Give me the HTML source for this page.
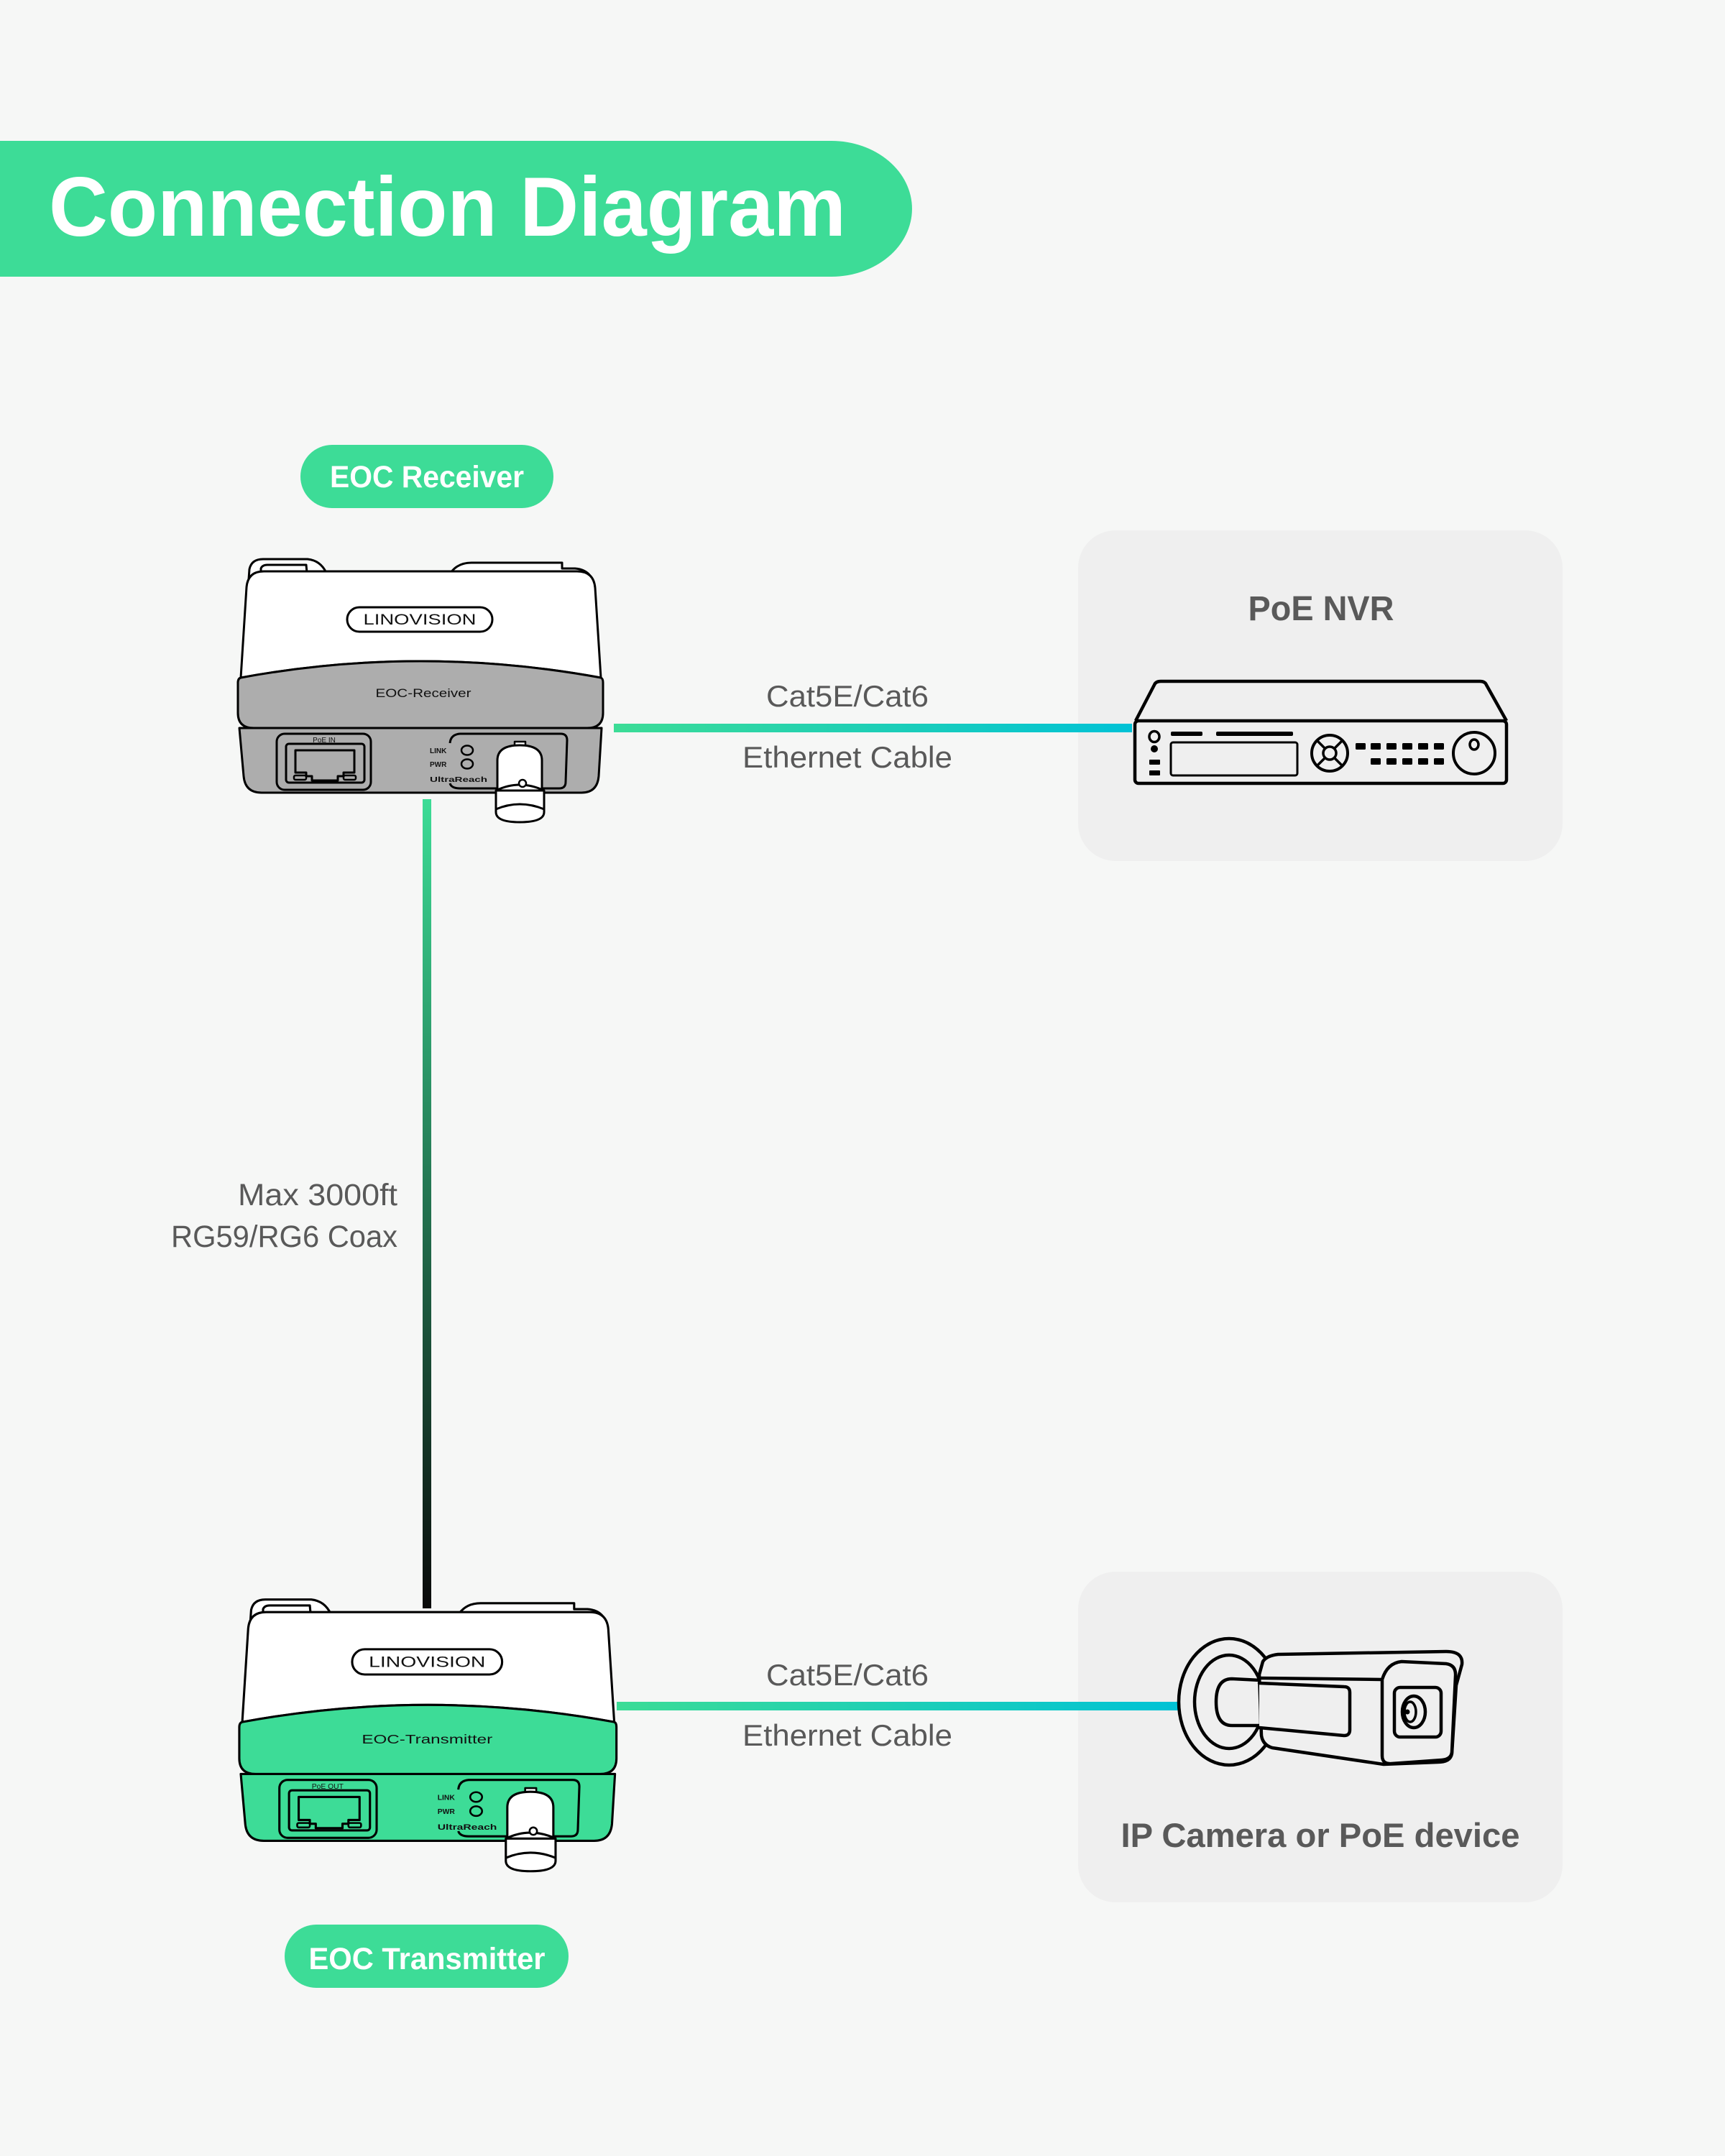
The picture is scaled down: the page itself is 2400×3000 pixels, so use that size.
<!DOCTYPE html>
<html><head><meta charset="utf-8"><style>
html,body{margin:0;padding:0;background:#f6f7f6;}
svg{display:block;}
text{font-family:"Liberation Sans",sans-serif;}
</style></head><body>
<svg width="2400" height="3000" viewBox="0 0 2400 3000" xmlns="http://www.w3.org/2000/svg">
<defs>
<linearGradient id="eth" x1="0" y1="0" x2="1" y2="0"><stop offset="0" stop-color="#3cdc96"/><stop offset="1" stop-color="#00c2d6"/></linearGradient>
<linearGradient id="coax" x1="0" y1="0" x2="0" y2="1"><stop offset="0" stop-color="#3cdc96"/><stop offset="1" stop-color="#0a0a0a"/></linearGradient>
</defs>
<rect width="2400" height="3000" fill="#f6f7f6"/>

<!-- Title banner -->
<path d="M0,196 H1157 A112,94.5 0 0 1 1157,385 H0 Z" fill="#3ddc97"/>
<text x="68" y="328" font-size="117" font-weight="bold" fill="#fff" textLength="1109" lengthAdjust="spacingAndGlyphs">Connection Diagram</text>

<!-- EOC Receiver pill -->
<rect x="418" y="619" width="352" height="88" rx="44" fill="#3ddc97"/>
<text x="594" y="678" font-size="43" font-weight="bold" fill="#fff" text-anchor="middle" textLength="270" lengthAdjust="spacingAndGlyphs">EOC Receiver</text>

<!-- EOC Transmitter pill -->
<rect x="396" y="2678" width="395" height="88" rx="44" fill="#3ddc97"/>
<text x="594" y="2740" font-size="43" font-weight="bold" fill="#fff" text-anchor="middle" textLength="329" lengthAdjust="spacingAndGlyphs">EOC Transmitter</text>

<!-- Boxes -->
<rect x="1500" y="738" width="674" height="460" rx="52" fill="#efefef"/>
<rect x="1500" y="2187" width="674" height="460" rx="52" fill="#efefef"/>

<!-- Cables -->
<rect x="854" y="1007" width="721" height="12" fill="url(#eth)"/>
<rect x="858" y="2368" width="784" height="12" fill="url(#eth)"/>
<rect x="588" y="1112" width="12" height="1126" fill="url(#coax)"/>

<!-- Cable labels -->
<g fill="#595959" font-size="42">
<text x="1179" y="983" text-anchor="middle" textLength="226" lengthAdjust="spacingAndGlyphs">Cat5E/Cat6</text>
<text x="1179" y="1068" text-anchor="middle" textLength="292" lengthAdjust="spacingAndGlyphs">Ethernet Cable</text>
<text x="1179" y="2345" text-anchor="middle" textLength="226" lengthAdjust="spacingAndGlyphs">Cat5E/Cat6</text>
<text x="1179" y="2429" text-anchor="middle" textLength="292" lengthAdjust="spacingAndGlyphs">Ethernet Cable</text>
<text x="553" y="1677" font-size="43" text-anchor="end" textLength="222" lengthAdjust="spacingAndGlyphs">Max 3000ft</text>
<text x="553" y="1735" font-size="43" text-anchor="end" textLength="315" lengthAdjust="spacingAndGlyphs">RG59/RG6 Coax</text>
</g>

<!-- NVR -->
<text x="1838" y="863" font-size="48" font-weight="bold" fill="#595959" text-anchor="middle" textLength="203" lengthAdjust="spacingAndGlyphs">PoE NVR</text>
<g stroke="#000" stroke-width="4.5" fill="none" stroke-linejoin="round">
<path d="M1580,1003 L1606,953 Q1608,948 1615,948 L2059,948 Q2066,948 2068,953 L2096,1003"/>
<rect x="1579" y="1003" width="517" height="87" rx="5"/>
<ellipse cx="1606" cy="1025" rx="7" ry="7.5" stroke-width="3.5"/>
<rect x="1629" y="1033" width="176" height="46" rx="3" stroke-width="3"/>
<circle cx="1850" cy="1048" r="25" stroke-width="4"/>
<circle cx="1850" cy="1048" r="9" stroke-width="3.5"/>
<path d="M1833,1031 L1844,1042 M1867,1031 L1856,1042 M1833,1065 L1844,1054 M1867,1065 L1856,1054" stroke-width="3.5"/>
<circle cx="2051" cy="1048" r="29" stroke-width="4"/>
<ellipse cx="2051" cy="1036" rx="6" ry="7" stroke-width="3.5"/>
</g>
<g fill="#000">
<circle cx="1606" cy="1042" r="5"/>
<rect x="1599" y="1057" width="15" height="7" rx="1"/>
<rect x="1599" y="1072" width="15" height="7" rx="1"/>
<rect x="1629" y="1018" width="44" height="6" rx="2"/>
<rect x="1692" y="1018" width="107" height="6" rx="2"/>
<rect x="1886" y="1034" width="14" height="9" rx="1.5"/>
<rect x="1907" y="1034" width="14" height="9" rx="1.5"/>
<rect x="1929" y="1034" width="14" height="9" rx="1.5"/>
<rect x="1951" y="1034" width="14" height="9" rx="1.5"/>
<rect x="1973" y="1034" width="14" height="9" rx="1.5"/>
<rect x="1995" y="1034" width="14" height="9" rx="1.5"/>
<rect x="1907" y="1055" width="14" height="9" rx="1.5"/>
<rect x="1929" y="1055" width="14" height="9" rx="1.5"/>
<rect x="1951" y="1055" width="14" height="9" rx="1.5"/>
<rect x="1973" y="1055" width="14" height="9" rx="1.5"/>
<rect x="1995" y="1055" width="14" height="9" rx="1.5"/>
</g>

<!-- Camera -->
<text x="1837" y="2570" font-size="47" font-weight="bold" fill="#595959" text-anchor="middle" textLength="555" lengthAdjust="spacingAndGlyphs">IP Camera or PoE device</text>
<g stroke="#000" stroke-width="4.5" fill="#efefef" stroke-linejoin="round" stroke-linecap="round">
<ellipse cx="1710" cy="2368" rx="70" ry="88"/>
<ellipse cx="1710" cy="2368" rx="48" ry="65"/>
<path d="M1754,2338 L1714,2336 Q1692,2336 1692,2368 Q1692,2401 1714,2401 L1754,2401 Z"/>
<path d="M1757,2312 Q1762,2304 1778,2302 L2012,2298 Q2036,2298 2034,2316 L2026,2345 L2020,2440 Q2018,2452 2000,2452 L1925,2455 L1770,2432 Q1757,2428 1755,2415 L1752,2330 Z"/>
<path d="M1753,2335 L1923,2337" fill="none"/>
<path d="M1752,2342 L1870,2347 Q1878,2347 1878,2355 L1878,2407 Q1878,2415 1870,2415 L1752,2404" />
<path d="M1923,2337 Q1930,2314 1950,2312 L2012,2315 Q2026,2317 2025,2332 L2020,2438 Q2019,2448 2006,2449 L1936,2454 Q1923,2455 1923,2443 Z"/>
<rect x="1940" y="2348" width="65" height="69" rx="8"/>
<ellipse cx="1967" cy="2382" rx="16" ry="22"/>
<ellipse cx="1962" cy="2382" rx="8" ry="14" stroke-width="3.5"/>
<circle cx="1958" cy="2382" r="2.5" fill="#000" stroke-width="2"/>
</g>

<!-- Receiver device -->
<g stroke="#000" stroke-width="3" stroke-linejoin="round">
<path d="M346,806 L347,792 Q350,778 366,778 L428,778 Q446,780 454,797 Z" fill="#fff"/>
<path d="M363,797 L363,791 Q365,786 372,786 L426,786 L427,797" fill="none"/>
<path d="M627,797 Q637,783 656,783 L782,783 L782,791 L800,791 Q814,792 821,801 Z" fill="#fff"/>
<path d="M335,943 L343,817 Q345,795 367,795 L803,795 Q826,795 828,818 L836,943 Q585,897 335,943 Z" fill="#fff"/>
<path d="M333,1013 L339,1080 Q341,1103 364,1103 L809,1103 Q831,1103 833,1080 L837,1013 Z" fill="#adadad"/>
<path d="M335,943 Q585,897 836,943 Q839,944 839,950 L839,992 Q839,1013 817,1013 L353,1013 Q331,1013 331,992 L331,950 Q331,944 335,943 Z" fill="#adadad"/>
<rect x="483" y="845" width="202" height="34" rx="17" fill="#fff"/>
<rect x="385" y="1021" width="131" height="78" rx="11" fill="none"/>
<rect x="398" y="1035" width="109" height="54" rx="4" fill="none"/>
<path d="M411,1044 H493 V1075 H478 V1080 H470 V1086 H434 V1080 H426 V1075 H411 Z" fill="none"/>
<rect x="409" y="1079" width="17" height="6" rx="2" fill="none" stroke-width="2.5"/>
<rect x="478" y="1079" width="17" height="6" rx="2" fill="none" stroke-width="2.5"/>
<path d="M626,1034 Q627,1022 640,1021 L780,1021 Q789,1021 789,1030 L787,1088 Q787,1097 778,1097 L640,1097 Q628,1097 626,1090" fill="none"/>
<ellipse cx="650" cy="1044" rx="8" ry="6.5" fill="none" stroke-width="2.5"/>
<ellipse cx="650" cy="1063" rx="8" ry="6.5" fill="none" stroke-width="2.5"/>
<rect x="716" y="1032" width="15" height="7" fill="#fff" stroke-width="2.5"/>
<path d="M692,1118 L692,1058 Q692,1037 723,1037 Q754,1037 754,1058 L754,1118 Z" fill="#fff"/>
<path d="M690,1100 L690,1130 Q690,1144 723,1144 Q757,1144 757,1130 L757,1100 Z" fill="#fff"/>
<path d="M690,1100 Q723,1084 757,1100" fill="none"/>
<path d="M690,1126 Q723,1112 757,1126" fill="none"/>
<circle cx="727" cy="1090" r="5" fill="#fff" stroke-width="2.5"/>
</g>
<g fill="#111" stroke="none">
<text x="584" y="869" font-size="21" textLength="157" lengthAdjust="spacingAndGlyphs" text-anchor="middle">LINOVISION</text>
<text x="589" y="970" font-size="17" textLength="133" lengthAdjust="spacingAndGlyphs" text-anchor="middle">EOC-Receiver</text>
<text x="451" y="1033" font-size="10" text-anchor="middle">PoE IN</text>
<text x="598" y="1048" font-size="10" font-weight="bold">LINK</text>
<text x="598" y="1067" font-size="10" font-weight="bold">PWR</text>
<text x="598" y="1088" font-size="10.5" font-weight="bold" textLength="80" lengthAdjust="spacingAndGlyphs">UltraReach</text>
</g>

<!-- Transmitter device -->
<g transform="translate(-9,1422) scale(1.033)">
<g stroke="#000" stroke-width="3" stroke-linejoin="round">
<path d="M346,806 L347,792 Q350,778 366,778 L428,778 Q446,780 454,797 Z" fill="#fff"/>
<path d="M363,797 L363,791 Q365,786 372,786 L426,786 L427,797" fill="none"/>
<path d="M627,797 Q637,783 656,783 L782,783 L782,791 L800,791 Q814,792 821,801 Z" fill="#fff"/>
<path d="M335,943 L343,817 Q345,795 367,795 L803,795 Q826,795 828,818 L836,943 Q585,897 335,943 Z" fill="#fff"/>
<path d="M333,1013 L339,1080 Q341,1103 364,1103 L809,1103 Q831,1103 833,1080 L837,1013 Z" fill="#3ddc97"/>
<path d="M335,943 Q585,897 836,943 Q839,944 839,950 L839,992 Q839,1013 817,1013 L353,1013 Q331,1013 331,992 L331,950 Q331,944 335,943 Z" fill="#3ddc97"/>
<rect x="483" y="845" width="202" height="34" rx="17" fill="#fff"/>
<rect x="385" y="1021" width="131" height="78" rx="11" fill="none"/>
<rect x="398" y="1035" width="109" height="54" rx="4" fill="none"/>
<path d="M411,1044 H493 V1075 H478 V1080 H470 V1086 H434 V1080 H426 V1075 H411 Z" fill="none"/>
<rect x="409" y="1079" width="17" height="6" rx="2" fill="none" stroke-width="2.5"/>
<rect x="478" y="1079" width="17" height="6" rx="2" fill="none" stroke-width="2.5"/>
<path d="M626,1034 Q627,1022 640,1021 L780,1021 Q789,1021 789,1030 L787,1088 Q787,1097 778,1097 L640,1097 Q628,1097 626,1090" fill="none"/>
<ellipse cx="650" cy="1044" rx="8" ry="6.5" fill="none" stroke-width="2.5"/>
<ellipse cx="650" cy="1063" rx="8" ry="6.5" fill="none" stroke-width="2.5"/>
<rect x="716" y="1032" width="15" height="7" fill="#fff" stroke-width="2.5"/>
<path d="M692,1118 L692,1058 Q692,1037 723,1037 Q754,1037 754,1058 L754,1118 Z" fill="#fff"/>
<path d="M690,1100 L690,1130 Q690,1144 723,1144 Q757,1144 757,1130 L757,1100 Z" fill="#fff"/>
<path d="M690,1100 Q723,1084 757,1100" fill="none"/>
<path d="M690,1126 Q723,1112 757,1126" fill="none"/>
<circle cx="727" cy="1090" r="5" fill="#fff" stroke-width="2.5"/>
</g>
<g fill="#111" stroke="none">
<text x="584" y="869" font-size="21" textLength="157" lengthAdjust="spacingAndGlyphs" text-anchor="middle">LINOVISION</text>
<text x="584" y="972" font-size="17" textLength="176" lengthAdjust="spacingAndGlyphs" text-anchor="middle">EOC-Transmitter</text>
<text x="450" y="1033" font-size="10" text-anchor="middle">PoE OUT</text>
<text x="598" y="1048" font-size="10" font-weight="bold">LINK</text>
<text x="598" y="1067" font-size="10" font-weight="bold">PWR</text>
<text x="598" y="1088" font-size="10.5" font-weight="bold" textLength="80" lengthAdjust="spacingAndGlyphs">UltraReach</text>
</g>
</g>
</svg>
</body></html>
